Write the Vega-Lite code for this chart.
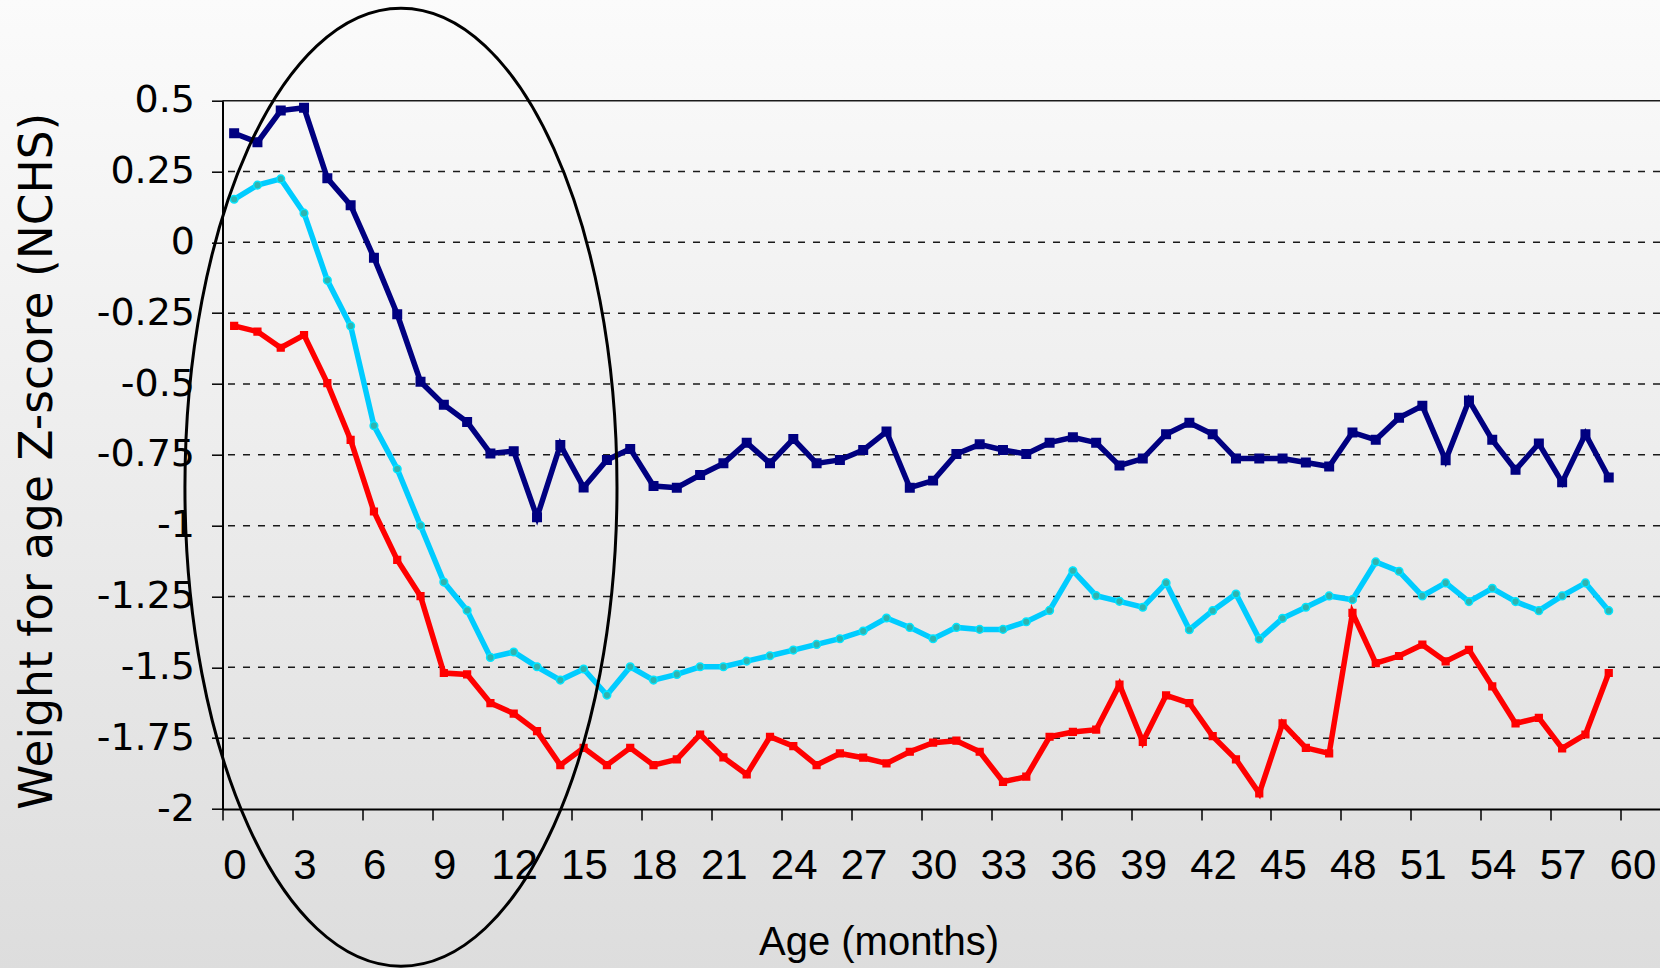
{
  "$schema": "https://vega.github.io/schema/vega-lite/v6.json",
  "width": 1437.5,
  "height": 708.3,
  "autosize": {"type": "none"},
  "padding": {"left": 222.5, "top": 100.7, "right": 0, "bottom": 159},
  "background": "#e6e6e6",
  "config": {"view": {"stroke": null}},
  "datasets": {
    "zscores": [
      {"age": 0.5, "series": "Group 1", "z": 0.385}, {"age": 1.5, "series": "Group 1", "z": 0.353}, {"age": 2.5, "series": "Group 1", "z": 0.465}, {"age": 3.5, "series": "Group 1", "z": 0.475}, {"age": 4.5, "series": "Group 1", "z": 0.226}, {"age": 5.5, "series": "Group 1", "z": 0.131}, {"age": 6.5, "series": "Group 1", "z": -0.054}, {"age": 7.5, "series": "Group 1", "z": -0.254}, {"age": 8.5, "series": "Group 1", "z": -0.492}, {"age": 9.5, "series": "Group 1", "z": -0.573},
      {"age": 10.5, "series": "Group 1", "z": -0.634}, {"age": 11.5, "series": "Group 1", "z": -0.745}, {"age": 12.5, "series": "Group 1", "z": -0.737}, {"age": 13.5, "series": "Group 1", "z": -0.97}, {"age": 14.5, "series": "Group 1", "z": -0.715}, {"age": 15.5, "series": "Group 1", "z": -0.865}, {"age": 16.5, "series": "Group 1", "z": -0.768}, {"age": 17.5, "series": "Group 1", "z": -0.729}, {"age": 18.5, "series": "Group 1", "z": -0.86}, {"age": 19.5, "series": "Group 1", "z": -0.866},
      {"age": 20.5, "series": "Group 1", "z": -0.821}, {"age": 21.5, "series": "Group 1", "z": -0.78}, {"age": 22.5, "series": "Group 1", "z": -0.707}, {"age": 23.5, "series": "Group 1", "z": -0.78}, {"age": 24.5, "series": "Group 1", "z": -0.694}, {"age": 25.5, "series": "Group 1", "z": -0.78}, {"age": 26.5, "series": "Group 1", "z": -0.768}, {"age": 27.5, "series": "Group 1", "z": -0.733}, {"age": 28.5, "series": "Group 1", "z": -0.668}, {"age": 29.5, "series": "Group 1", "z": -0.866},
      {"age": 30.5, "series": "Group 1", "z": -0.841}, {"age": 31.5, "series": "Group 1", "z": -0.747}, {"age": 32.5, "series": "Group 1", "z": -0.713}, {"age": 33.5, "series": "Group 1", "z": -0.733}, {"age": 34.5, "series": "Group 1", "z": -0.747}, {"age": 35.5, "series": "Group 1", "z": -0.707}, {"age": 36.5, "series": "Group 1", "z": -0.688}, {"age": 37.5, "series": "Group 1", "z": -0.707}, {"age": 38.5, "series": "Group 1", "z": -0.788}, {"age": 39.5, "series": "Group 1", "z": -0.763},
      {"age": 40.5, "series": "Group 1", "z": -0.677}, {"age": 41.5, "series": "Group 1", "z": -0.637}, {"age": 42.5, "series": "Group 1", "z": -0.677}, {"age": 43.5, "series": "Group 1", "z": -0.763}, {"age": 44.5, "series": "Group 1", "z": -0.763}, {"age": 45.5, "series": "Group 1", "z": -0.763}, {"age": 46.5, "series": "Group 1", "z": -0.777}, {"age": 47.5, "series": "Group 1", "z": -0.791}, {"age": 48.5, "series": "Group 1", "z": -0.671}, {"age": 49.5, "series": "Group 1", "z": -0.697},
      {"age": 50.5, "series": "Group 1", "z": -0.619}, {"age": 51.5, "series": "Group 1", "z": -0.577}, {"age": 52.5, "series": "Group 1", "z": -0.769}, {"age": 53.5, "series": "Group 1", "z": -0.558}, {"age": 54.5, "series": "Group 1", "z": -0.697}, {"age": 55.5, "series": "Group 1", "z": -0.803}, {"age": 56.5, "series": "Group 1", "z": -0.71}, {"age": 57.5, "series": "Group 1", "z": -0.847}, {"age": 58.5, "series": "Group 1", "z": -0.677}, {"age": 59.5, "series": "Group 1", "z": -0.83},

      {"age": 0.5, "series": "Group 2", "z": 0.152}, {"age": 1.5, "series": "Group 2", "z": 0.202}, {"age": 2.5, "series": "Group 2", "z": 0.224}, {"age": 3.5, "series": "Group 2", "z": 0.103}, {"age": 4.5, "series": "Group 2", "z": -0.134}, {"age": 5.5, "series": "Group 2", "z": -0.295}, {"age": 6.5, "series": "Group 2", "z": -0.647}, {"age": 7.5, "series": "Group 2", "z": -0.8}, {"age": 8.5, "series": "Group 2", "z": -1.0}, {"age": 9.5, "series": "Group 2", "z": -1.199},
      {"age": 10.5, "series": "Group 2", "z": -1.299}, {"age": 11.5, "series": "Group 2", "z": -1.465}, {"age": 12.5, "series": "Group 2", "z": -1.446}, {"age": 13.5, "series": "Group 2", "z": -1.498}, {"age": 14.5, "series": "Group 2", "z": -1.545}, {"age": 15.5, "series": "Group 2", "z": -1.506}, {"age": 16.5, "series": "Group 2", "z": -1.598}, {"age": 17.5, "series": "Group 2", "z": -1.498}, {"age": 18.5, "series": "Group 2", "z": -1.545}, {"age": 19.5, "series": "Group 2", "z": -1.525},
      {"age": 20.5, "series": "Group 2", "z": -1.498}, {"age": 21.5, "series": "Group 2", "z": -1.498}, {"age": 22.5, "series": "Group 2", "z": -1.478}, {"age": 23.5, "series": "Group 2", "z": -1.459}, {"age": 24.5, "series": "Group 2", "z": -1.439}, {"age": 25.5, "series": "Group 2", "z": -1.419}, {"age": 26.5, "series": "Group 2", "z": -1.399}, {"age": 27.5, "series": "Group 2", "z": -1.372}, {"age": 28.5, "series": "Group 2", "z": -1.326}, {"age": 29.5, "series": "Group 2", "z": -1.359},
      {"age": 30.5, "series": "Group 2", "z": -1.399}, {"age": 31.5, "series": "Group 2", "z": -1.359}, {"age": 32.5, "series": "Group 2", "z": -1.366}, {"age": 33.5, "series": "Group 2", "z": -1.366}, {"age": 34.5, "series": "Group 2", "z": -1.339}, {"age": 35.5, "series": "Group 2", "z": -1.299}, {"age": 36.5, "series": "Group 2", "z": -1.159}, {"age": 37.5, "series": "Group 2", "z": -1.247}, {"age": 38.5, "series": "Group 2", "z": -1.267}, {"age": 39.5, "series": "Group 2", "z": -1.288},
      {"age": 40.5, "series": "Group 2", "z": -1.202}, {"age": 41.5, "series": "Group 2", "z": -1.367}, {"age": 42.5, "series": "Group 2", "z": -1.3}, {"age": 43.5, "series": "Group 2", "z": -1.241}, {"age": 44.5, "series": "Group 2", "z": -1.4}, {"age": 45.5, "series": "Group 2", "z": -1.327}, {"age": 46.5, "series": "Group 2", "z": -1.288}, {"age": 47.5, "series": "Group 2", "z": -1.248}, {"age": 48.5, "series": "Group 2", "z": -1.261}, {"age": 49.5, "series": "Group 2", "z": -1.128},
      {"age": 50.5, "series": "Group 2", "z": -1.161}, {"age": 51.5, "series": "Group 2", "z": -1.248}, {"age": 52.5, "series": "Group 2", "z": -1.202}, {"age": 53.5, "series": "Group 2", "z": -1.268}, {"age": 54.5, "series": "Group 2", "z": -1.221}, {"age": 55.5, "series": "Group 2", "z": -1.268}, {"age": 56.5, "series": "Group 2", "z": -1.3}, {"age": 57.5, "series": "Group 2", "z": -1.248}, {"age": 58.5, "series": "Group 2", "z": -1.202}, {"age": 59.5, "series": "Group 2", "z": -1.3},

      {"age": 0.5, "series": "Group 3", "z": -0.295}, {"age": 1.5, "series": "Group 3", "z": -0.315}, {"age": 2.5, "series": "Group 3", "z": -0.372}, {"age": 3.5, "series": "Group 3", "z": -0.327}, {"age": 4.5, "series": "Group 3", "z": -0.497}, {"age": 5.5, "series": "Group 3", "z": -0.697}, {"age": 6.5, "series": "Group 3", "z": -0.95}, {"age": 7.5, "series": "Group 3", "z": -1.121}, {"age": 8.5, "series": "Group 3", "z": -1.249}, {"age": 9.5, "series": "Group 3", "z": -1.52},
      {"age": 10.5, "series": "Group 3", "z": -1.525}, {"age": 11.5, "series": "Group 3", "z": -1.626}, {"age": 12.5, "series": "Group 3", "z": -1.663}, {"age": 13.5, "series": "Group 3", "z": -1.725}, {"age": 14.5, "series": "Group 3", "z": -1.845}, {"age": 15.5, "series": "Group 3", "z": -1.784}, {"age": 16.5, "series": "Group 3", "z": -1.845}, {"age": 17.5, "series": "Group 3", "z": -1.784}, {"age": 18.5, "series": "Group 3", "z": -1.845}, {"age": 19.5, "series": "Group 3", "z": -1.825},
      {"age": 20.5, "series": "Group 3", "z": -1.737}, {"age": 21.5, "series": "Group 3", "z": -1.818}, {"age": 22.5, "series": "Group 3", "z": -1.878}, {"age": 23.5, "series": "Group 3", "z": -1.745}, {"age": 24.5, "series": "Group 3", "z": -1.778}, {"age": 25.5, "series": "Group 3", "z": -1.845}, {"age": 26.5, "series": "Group 3", "z": -1.804}, {"age": 27.5, "series": "Group 3", "z": -1.819}, {"age": 28.5, "series": "Group 3", "z": -1.839}, {"age": 29.5, "series": "Group 3", "z": -1.798},
      {"age": 30.5, "series": "Group 3", "z": -1.766}, {"age": 31.5, "series": "Group 3", "z": -1.759}, {"age": 32.5, "series": "Group 3", "z": -1.798}, {"age": 33.5, "series": "Group 3", "z": -1.904}, {"age": 34.5, "series": "Group 3", "z": -1.886}, {"age": 35.5, "series": "Group 3", "z": -1.745}, {"age": 36.5, "series": "Group 3", "z": -1.728}, {"age": 37.5, "series": "Group 3", "z": -1.72}, {"age": 38.5, "series": "Group 3", "z": -1.561}, {"age": 39.5, "series": "Group 3", "z": -1.763},
      {"age": 40.5, "series": "Group 3", "z": -1.599}, {"age": 41.5, "series": "Group 3", "z": -1.626}, {"age": 42.5, "series": "Group 3", "z": -1.743}, {"age": 43.5, "series": "Group 3", "z": -1.825}, {"age": 44.5, "series": "Group 3", "z": -1.945}, {"age": 45.5, "series": "Group 3", "z": -1.698}, {"age": 46.5, "series": "Group 3", "z": -1.784}, {"age": 47.5, "series": "Group 3", "z": -1.804}, {"age": 48.5, "series": "Group 3", "z": -1.308}, {"age": 49.5, "series": "Group 3", "z": -1.485},
      {"age": 50.5, "series": "Group 3", "z": -1.46}, {"age": 51.5, "series": "Group 3", "z": -1.42}, {"age": 52.5, "series": "Group 3", "z": -1.479}, {"age": 53.5, "series": "Group 3", "z": -1.438}, {"age": 54.5, "series": "Group 3", "z": -1.567}, {"age": 55.5, "series": "Group 3", "z": -1.698}, {"age": 56.5, "series": "Group 3", "z": -1.678}, {"age": 57.5, "series": "Group 3", "z": -1.786}, {"age": 58.5, "series": "Group 3", "z": -1.737}, {"age": 59.5, "series": "Group 3", "z": -1.52}
    ],
    "levels": [
      {"level": -1.75}, {"level": -1.5}, {"level": -1.25}, {"level": -1}, {"level": -0.75},
      {"level": -0.5}, {"level": -0.25}, {"level": 0}, {"level": 0.25}, {"level": 0.5}
    ]
  },
  "layer": [
    {
      "description": "Page background: a soft vertical grey gradient behind everything; this layer also carries both axes, raised above the marks",
      "data": {"values": [{}]},
      "mark": {
        "type": "rect",
        "fill": {
          "gradient": "linear", "x1": 0, "y1": 0, "x2": 0, "y2": 1,
          "stops": [{"offset": 0, "color": "#fbfbfb"}, {"offset": 1, "color": "#dddddd"}]
        }
      },
      "encoding": {
        "x": {
          "datum": -9.6, "type": "quantitative",
          "scale": {"domain": [0, 61.7], "nice": false, "zero": false},
          "axis": {
            "zindex": 1,
            "title": "Age (months)",
            "values": [0, 3, 6, 9, 12, 15, 18, 21, 24, 27, 30, 33, 36, 39, 42, 45, 48, 51, 54, 57, 60],
            "labelExpr": "toString(datum.value)",
            "grid": false,
            "domainColor": "#000000", "domainWidth": 2,
            "tickColor": "#000000", "tickWidth": 1.5, "tickSize": 11,
            "labelFont": "'Liberation Sans Narrow', 'Liberation Sans'",
            "labelFontSize": 42, "labelColor": "#000000",
            "labelPadding": 25, "labelOffset": 12,
            "labelFlush": false, "labelOverlap": false,
            "titleFont": "Liberation Sans", "titleFontSize": 40, "titleFontWeight": "normal", "titleColor": "#000000",
            "titleX": 656, "titleY": 133, "titleAlign": "center", "titleBaseline": "middle"
          }
        },
        "x2": {"datum": 61.8},
        "y": {
          "datum": 0.86, "type": "quantitative",
          "scale": {"domain": [-2, 0.5], "nice": false, "zero": false},
          "axis": {
            "zindex": 1,
            "title": "Weight for age Z-score (NCHS)",
            "values": [-2, -1.75, -1.5, -1.25, -1, -0.75, -0.5, -0.25, 0, 0.25, 0.5],
            "labelExpr": "toString(datum.value)",
            "grid": false,
            "domainColor": "#000000", "domainWidth": 2,
            "tickColor": "#000000", "tickWidth": 1.5, "tickSize": 11,
            "labelFont": "DejaVu Sans", "labelFontSize": 38, "labelColor": "#000000",
            "labelPadding": 17,
            "labelFlush": false, "labelOverlap": false,
            "titleFont": "DejaVu Sans", "titleFontSize": 45.5, "titleFontWeight": "normal", "titleColor": "#000000",
            "titleX": -185, "titleY": 360, "titleAngle": 270, "titleAlign": "center", "titleBaseline": "middle"
          }
        },
        "y2": {"datum": -2.57}
      }
    },
    {
      "description": "Horizontal reference lines; the top one frames the plot",
      "data": {"name": "levels"},
      "mark": {"type": "rule", "color": "#1a1a1a", "strokeWidth": 1.5},
      "encoding": {
        "y": {"field": "level", "type": "quantitative"},
        "strokeDash": {"condition": {"test": "datum.level === 0.5", "value": [1, 0]}, "value": [7, 8]}
      }
    },
    {
      "data": {"name": "zscores"},
      "mark": {"type": "line", "strokeWidth": 5.5, "strokeJoin": "miter"},
      "encoding": {
        "x": {"field": "age", "type": "quantitative"},
        "y": {"field": "z", "type": "quantitative"},
        "color": {
          "field": "series", "type": "nominal",
          "scale": {"domain": ["Group 1", "Group 2", "Group 3"], "range": ["#000080", "#00ccff", "#ff0000"]},
          "legend": null
        }
      }
    },
    {
      "data": {"name": "zscores"},
      "mark": {"type": "point", "filled": true, "strokeWidth": 1.5, "opacity": 1},
      "encoding": {
        "x": {"field": "age", "type": "quantitative"},
        "y": {"field": "z", "type": "quantitative"},
        "shape": {
          "field": "series", "type": "nominal",
          "scale": {"domain": ["Group 1", "Group 2", "Group 3"], "range": ["square", "circle", "square"]},
          "legend": null
        },
        "size": {
          "field": "series", "type": "ordinal",
          "scale": {"domain": ["Group 1", "Group 2", "Group 3"], "range": [72, 45, 140]},
          "legend": null
        },
        "fill": {
          "field": "series", "type": "nominal",
          "scale": {"domain": ["Group 1", "Group 2", "Group 3"], "range": ["#000080", "#2fb3b0", "#ff0000"]},
          "legend": null
        },
        "stroke": {
          "field": "series", "type": "nominal",
          "scale": {"domain": ["Group 1", "Group 2", "Group 3"], "range": ["#000080", "#00e5ff", "#ff0000"]},
          "legend": null
        }
      }
    },
    {
      "description": "Ellipse highlighting the first months",
      "data": {"values": [{}]},
      "mark": {
        "type": "point",
        "shape": "M 0.451 0 C 0.451 0.5523 0.2491 1 0 1 C -0.2491 1 -0.451 0.5523 -0.451 0 C -0.451 -0.5523 -0.2491 -1 0 -1 C 0.2491 -1 0.451 -0.5523 0.451 0 Z",
        "size": 917764,
        "filled": false,
        "color": "#000000",
        "strokeWidth": 3,
        "opacity": 1
      },
      "encoding": {
        "x": {"datum": 7.66, "type": "quantitative"},
        "y": {"datum": -0.864, "type": "quantitative"}
      }
    }
  ]
}
